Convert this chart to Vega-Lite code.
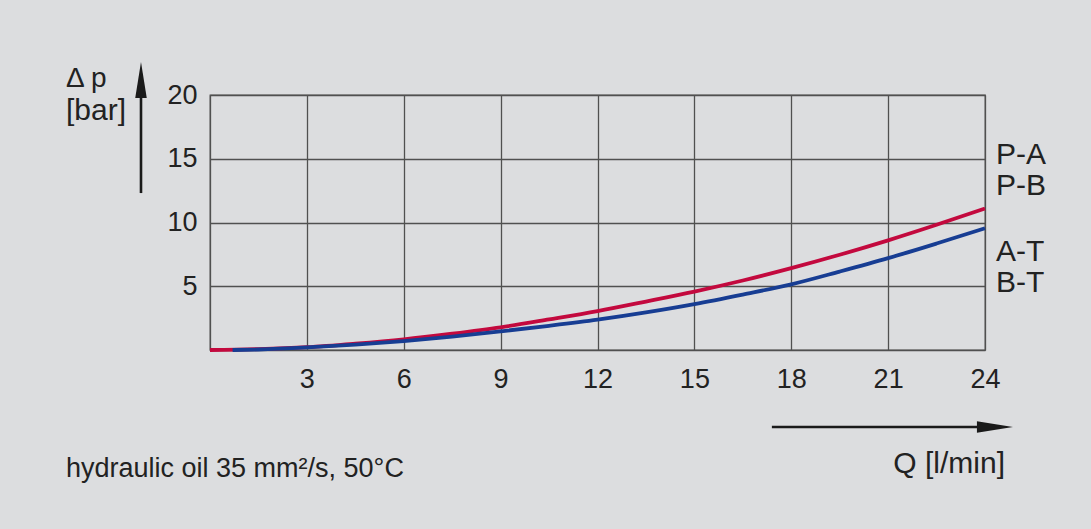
{
  "$schema": "https://vega.github.io/schema/vega-lite/v6.json",
  "width": 775,
  "height": 255,
  "autosize": {"type": "none"},
  "padding": {"left": 210, "top": 95, "right": 106, "bottom": 179},
  "background": "#dcdddf",
  "config": {
    "view": {"stroke": "#555555", "strokeWidth": 1.3, "fill": "#dcdddf"},
    "font": "Liberation Sans",
    "text": {"font": "Liberation Sans", "fontSize": 25, "color": "#222222"}
  },
  "datasets": {
    "curves": [
      {"Q": 0, "dp": 0, "series": "P"},
      {"Q": 1.5, "dp": 0.07, "series": "P"},
      {"Q": 3, "dp": 0.22, "series": "P"},
      {"Q": 4.5, "dp": 0.5, "series": "P"},
      {"Q": 6, "dp": 0.84, "series": "P"},
      {"Q": 7.5, "dp": 1.28, "series": "P"},
      {"Q": 9, "dp": 1.78, "series": "P"},
      {"Q": 10.5, "dp": 2.4, "series": "P"},
      {"Q": 12, "dp": 3.05, "series": "P"},
      {"Q": 13.5, "dp": 3.8, "series": "P"},
      {"Q": 15, "dp": 4.58, "series": "P"},
      {"Q": 16.5, "dp": 5.45, "series": "P"},
      {"Q": 18, "dp": 6.42, "series": "P"},
      {"Q": 19.5, "dp": 7.47, "series": "P"},
      {"Q": 21, "dp": 8.6, "series": "P"},
      {"Q": 22.5, "dp": 9.82, "series": "P"},
      {"Q": 24, "dp": 11.1, "series": "P"},
      {"Q": 0.7, "dp": 0, "series": "T"},
      {"Q": 1.5, "dp": 0.04, "series": "T"},
      {"Q": 3, "dp": 0.2, "series": "T"},
      {"Q": 4.5, "dp": 0.42, "series": "T"},
      {"Q": 6, "dp": 0.7, "series": "T"},
      {"Q": 7.5, "dp": 1.05, "series": "T"},
      {"Q": 9, "dp": 1.46, "series": "T"},
      {"Q": 10.5, "dp": 1.9, "series": "T"},
      {"Q": 12, "dp": 2.38, "series": "T"},
      {"Q": 13.5, "dp": 2.95, "series": "T"},
      {"Q": 15, "dp": 3.6, "series": "T"},
      {"Q": 16.5, "dp": 4.35, "series": "T"},
      {"Q": 18, "dp": 5.15, "series": "T"},
      {"Q": 19.5, "dp": 6.15, "series": "T"},
      {"Q": 21, "dp": 7.2, "series": "T"},
      {"Q": 22.5, "dp": 8.35, "series": "T"},
      {"Q": 24, "dp": 9.55, "series": "T"}
    ],
    "labels": [
      {"text": "P-A", "Q": 24.34, "dp": 14.59},
      {"text": "P-B", "Q": 24.34, "dp": 12.16},
      {"text": "A-T", "Q": 24.34, "dp": 6.98},
      {"text": "B-T", "Q": 24.34, "dp": 4.57}
    ]
  },
  "layer": [
    {
      "data": {"name": "curves"},
      "mark": {"type": "line", "strokeWidth": 3.8, "interpolate": "monotone", "strokeCap": "butt"},
      "encoding": {
        "x": {
          "field": "Q", "type": "quantitative",
          "scale": {"domain": [0, 24], "nice": false, "zero": false},
          "axis": {
            "values": [0, 3, 6, 9, 12, 15, 18, 21, 24],
            "labelExpr": "datum.value == 0 ? '' : datum.label",
            "title": null, "domain": false, "ticks": false, "tickSize": 0,
            "grid": true, "gridColor": "#505050", "gridWidth": 1.3, "gridOpacity": 1,
            "labelFont": "Liberation Sans", "labelFontSize": 27, "labelColor": "#222222",
            "labelBaseline": "alphabetic", "labelPadding": 37, "labelAlign": "center"
          }
        },
        "y": {
          "field": "dp", "type": "quantitative",
          "scale": {"domain": [0, 20], "nice": false},
          "axis": {
            "values": [0, 2.5, 5, 7.5, 10, 12.5, 15, 17.5, 20],
            "labelExpr": "datum.value > 0 && datum.value % 5 == 0 ? datum.label : ''",
            "title": null, "domain": false, "ticks": false, "tickSize": 0,
            "grid": true, "gridColor": "#505050", "gridWidth": 1.3, "gridOpacity": 1,
            "labelFont": "Liberation Sans", "labelFontSize": 27, "labelColor": "#222222",
            "labelBaseline": "middle", "labelPadding": 13, "labelAlign": "right"
          }
        },
        "color": {
          "field": "series", "type": "nominal",
          "scale": {"domain": ["T", "P"], "range": ["#173d93", "#c3093e"]},
          "legend": null
        },
        "order": {"field": "Q", "type": "quantitative"}
      }
    },
    {
      "data": {"name": "labels"},
      "mark": {"type": "text", "align": "left", "baseline": "alphabetic", "fontSize": 30, "color": "#222222"},
      "encoding": {
        "x": {"field": "Q", "type": "quantitative"},
        "y": {"field": "dp", "type": "quantitative"},
        "text": {"field": "text"}
      }
    },
    {
      "data": {"values": [{}]},
      "mark": {"type": "text", "align": "left", "baseline": "alphabetic", "fontSize": 28, "color": "#222222", "text": "Δ p"},
      "encoding": {"x": {"datum": -4.46}, "y": {"datum": 20.65}}
    },
    {
      "data": {"values": [{}]},
      "mark": {"type": "text", "align": "left", "baseline": "alphabetic", "fontSize": 30, "color": "#222222", "text": "[bar]"},
      "encoding": {"x": {"datum": -4.46}, "y": {"datum": 18.04}}
    },
    {
      "data": {"values": [{}]},
      "mark": {"type": "text", "align": "right", "baseline": "alphabetic", "fontSize": 30, "color": "#222222", "text": "Q [l/min]"},
      "encoding": {"x": {"datum": 24.62}, "y": {"datum": -9.65}}
    },
    {
      "data": {"values": [{}]},
      "mark": {"type": "text", "align": "left", "baseline": "alphabetic", "fontSize": 27, "color": "#222222", "text": "hydraulic oil 35 mm²/s, 50°C"},
      "encoding": {"x": {"datum": -4.46}, "y": {"datum": -9.96}}
    },
    {
      "data": {"values": [{}]},
      "mark": {"type": "rule", "stroke": "#1a1a1a", "strokeWidth": 2.6},
      "encoding": {"x": {"datum": -2.137}, "y": {"datum": 12.31}, "y2": {"datum": 20.5}}
    },
    {
      "data": {"values": [{}]},
      "mark": {"type": "point", "shape": "M0,-1L-0.16,0L0.16,0Z", "size": 5184, "filled": true, "fill": "#1a1a1a", "stroke": null, "opacity": 1},
      "encoding": {"x": {"datum": -2.137}, "y": {"datum": 19.76}}
    },
    {
      "data": {"values": [{}]},
      "mark": {"type": "rule", "stroke": "#1a1a1a", "strokeWidth": 2.6},
      "encoding": {"x": {"datum": 17.4}, "x2": {"datum": 24.2}, "y": {"datum": -6.04}}
    },
    {
      "data": {"values": [{}]},
      "mark": {"type": "point", "shape": "M1,0L0,-0.16L0,0.16Z", "size": 5184, "filled": true, "fill": "#1a1a1a", "stroke": null, "opacity": 1},
      "encoding": {"x": {"datum": 23.75}, "y": {"datum": -6.04}}
    }
  ]
}
